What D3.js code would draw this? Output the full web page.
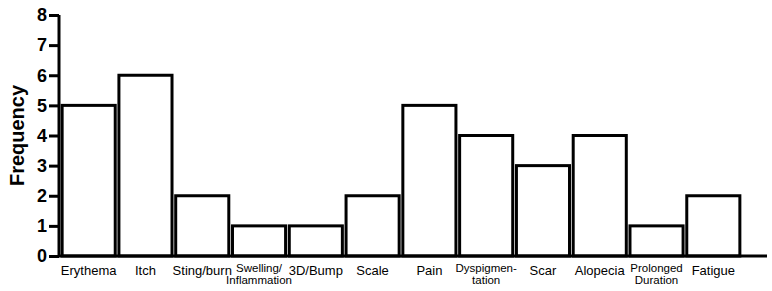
<!DOCTYPE html>
<html>
<head>
<meta charset="utf-8">
<script src="https://cdn.jsdelivr.net/npm/d3@7"></script>
<style>
  body { margin: 0; background: #fff; }
  svg { display: block; font-family: "Liberation Sans", Arial, sans-serif; }
</style>
</head>
<body>
<svg id="chart"></svg>
<script>
const categories = ['Erythema', 'Itch', 'Sting/burn', 'Swelling/\nInflammation', '3D/Bump', 'Scale',
  'Pain', 'Dyspigmen-\ntation', 'Scar', 'Alopecia', 'Prolonged\nDuration', 'Fatigue'];
const frequency = [5, 6, 2, 1, 1, 2, 5, 4, 3, 4, 1, 2];
const yTicks = [0, 1, 2, 3, 4, 5, 6, 7, 8];

const [width, height] = [772, 291];
const svg = d3.select('#chart')
  .attr('width', width)
  .attr('height', height);

const x = d3.scaleBand()
  .domain(categories)
  .range([61, 741])
  .paddingInner(0.065)
  .paddingOuter(0.02);
const y = d3.scaleLinear()
  .domain([0, 8])
  .range([256, 15]);

// bars
svg.append('g')
  .selectAll('rect')
  .data(categories)
  .join('rect')
  .attr('x', d => x(d))
  .attr('y', (d, i) => y(frequency[i]))
  .attr('width', x.bandwidth())
  .attr('height', (d, i) => y(0) - y(frequency[i]))
  .attr('fill', '#fff')
  .attr('stroke', '#000')
  .attr('stroke-width', 3);

// y axis
const yAxis = svg.append('g')
  .attr('transform', 'translate(59,0)')
  .call(d3.axisLeft(y).tickValues(yTicks).tickSize(10).tickPadding(2).tickFormat(d3.format('d')));
yAxis.select('.domain').attr('stroke-width', 3).attr('d', `M0,${y(8)}V${y(0)}`);
yAxis.selectAll('.tick line').attr('stroke-width', 3);
yAxis.selectAll('.tick text')
  .attr('font-size', 18)
  .attr('font-weight', 'bold')
  .attr('fill', '#000');

// x axis line
svg.append('path')
  .attr('d', `M58,${y(0)}H767`)
  .attr('stroke', '#000')
  .attr('stroke-width', 3);

// category labels
const labels = svg.append('g')
  .selectAll('text')
  .data(categories)
  .join('text')
  .attr('text-anchor', 'middle')
  .attr('fill', '#000')
  .attr('x', d => x(d) + x.bandwidth() / 2)
  .attr('font-size', d => d.includes('\n') ? 11.5 : 13);
labels.each(function(d) {
  const lines = d.split('\n');
  const t = d3.select(this);
  lines.forEach((ln, i) => {
    t.append('tspan')
      .attr('x', x(d) + x.bandwidth() / 2)
      .attr('y', lines.length > 1 ? 272 + i * 12 : 275)
      .text(ln);
  });
});

// y label
svg.append('text')
  .attr('transform', `translate(24,${(y(0) + y(8)) / 2}) rotate(-90)`)
  .attr('text-anchor', 'middle')
  .attr('font-size', 20)
  .attr('font-weight', 'bold')
  .text('Frequency');
</script>
</body>
</html>
